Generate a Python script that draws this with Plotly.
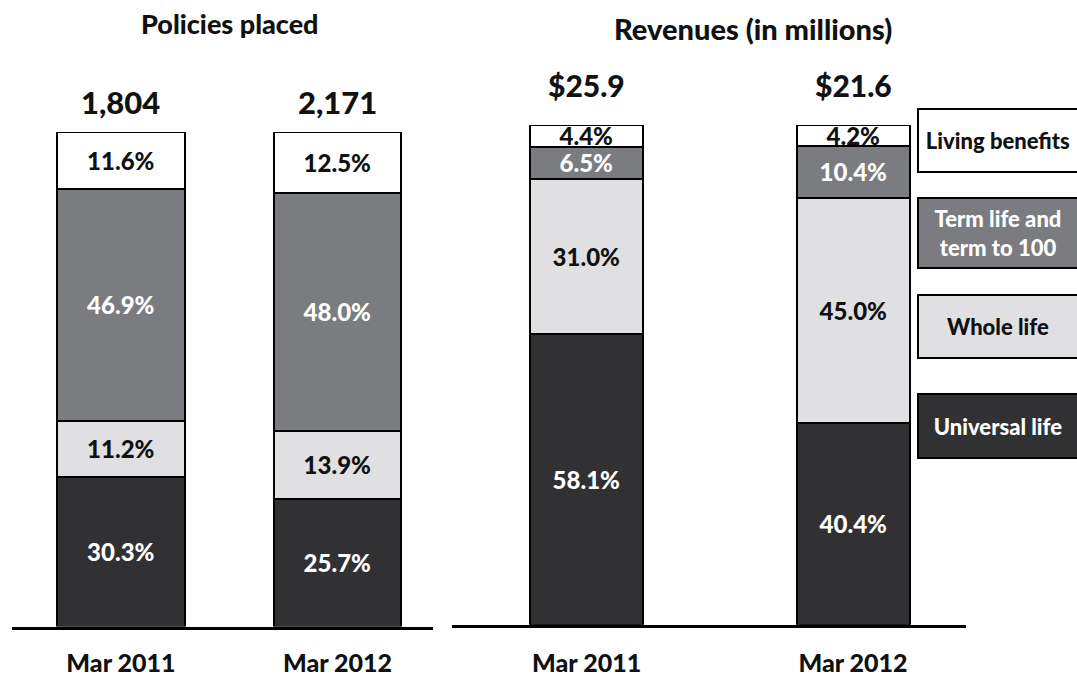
import plotly.graph_objects as go

# Categories and stacked shares (%)
periods = ["Mar 2011", "Mar 2012"]
segments = ["Universal life", "Whole life", "Term life and term to 100", "Living benefits"]
legend_labels = ["Universal life", "Whole life", "Term life and<br>term to 100", "Living benefits"]

policies_universal = [30.3, 25.7]
policies_whole = [11.2, 13.9]
policies_term = [46.9, 48.0]
policies_living = [11.6, 12.5]

revenue_universal = [58.1, 40.4]
revenue_whole = [31.0, 45.0]
revenue_term = [6.5, 10.4]
revenue_living = [4.4, 4.2]

# Totals shown above each bar
policies_total = [1804, 2171]
revenue_total = [25.9, 21.6]

fills = ["#313133", "#e0e0e2", "#7b7c80", "#ffffff"]
text_colors = ["#ffffff", "#111111", "#ffffff", "#111111"]
FONT = "Lato"
WEIGHT = 900

W, H = 1077, 677


def px_x(v):
    return v / W


def px_y(v):
    return 1 - v / H


fig = go.Figure()

policy_series = [policies_universal, policies_whole, policies_term, policies_living]
revenue_series = [revenue_universal, revenue_whole, revenue_term, revenue_living]

for i, name in enumerate(segments):
    fig.add_trace(go.Bar(
        x=periods, y=policy_series[i], name=name, xaxis="x", yaxis="y",
        width=0.59,
        marker=dict(color=fills[i], line=dict(color="#000000", width=2.5)),
        text=[f"{v:.1f}%" for v in policy_series[i]],
        textposition="inside", insidetextanchor="middle",
        textfont=dict(family=FONT, size=24, color=text_colors[i], weight=WEIGHT),
        showlegend=False, hoverinfo="skip",
    ))
for i, name in enumerate(segments):
    fig.add_trace(go.Bar(
        x=periods, y=revenue_series[i], name=name, xaxis="x2", yaxis="y2",
        width=0.424,
        marker=dict(color=fills[i], line=dict(color="#000000", width=2.5)),
        text=[f"{v:.1f}%" for v in revenue_series[i]],
        textposition="inside", insidetextanchor="middle",
        textfont=dict(family=FONT, size=24, color=text_colors[i], weight=WEIGHT),
        showlegend=False, hoverinfo="skip",
    ))

annotations = []
# Panel titles
annotations.append(dict(x=px_x(230), y=px_y(24), xref="paper", yref="paper",
                        xanchor="center", yanchor="middle",
                        text="Policies placed", showarrow=False,
                        font=dict(family=FONT, size=27, color="#111111", weight=WEIGHT)))
annotations.append(dict(x=px_x(753), y=px_y(29), xref="paper", yref="paper",
                        xanchor="center", yanchor="middle",
                        text="Revenues (in millions)", showarrow=False,
                        font=dict(family=FONT, size=29, color="#111111", weight=WEIGHT)))

# Totals above bars (anchored at the stack top, capped at the axis ceiling)
for p, t, s in zip(periods, policies_total, [sum(v) for v in zip(*policy_series)]):
    annotations.append(dict(x=p, y=min(s, 100), xref="x", yref="y", text=f"{t:,}",
                            showarrow=False, xanchor="center", yanchor="bottom", yshift=9,
                            font=dict(family=FONT, size=31, color="#111111", weight=WEIGHT)))
for p, t, s in zip(periods, revenue_total, [sum(v) for v in zip(*revenue_series)]):
    annotations.append(dict(x=p, y=min(s, 100), xref="x2", yref="y2", text=f"${t:.1f}",
                            showarrow=False, xanchor="center", yanchor="bottom", yshift=20,
                            font=dict(family=FONT, size=30, color="#111111", weight=WEIGHT)))

# Legend boxes, top to bottom
legend_boxes = [(110, 65), (200, 72), (298, 65), (399, 66)]
for idx, (top, hgt) in zip([3, 2, 1, 0], legend_boxes):
    annotations.append(dict(
        x=px_x(917), y=px_y(top), xref="paper", yref="paper",
        xanchor="left", yanchor="top", showarrow=False,
        text=legend_labels[idx], align="center",
        width=158, height=hgt - 4, borderpad=0,
        bgcolor=fills[idx], bordercolor="#000000", borderwidth=2,
        font=dict(family=FONT, size=22, color=text_colors[idx], weight=WEIGHT),
    ))

axis_common = dict(showgrid=False, zeroline=False, fixedrange=True)
tick_font = dict(family=FONT, size=25, color="#111111", weight=WEIGHT)
fig.update_layout(
    width=W, height=H,
    margin=dict(l=0, r=0, t=0, b=0),
    paper_bgcolor="#ffffff", plot_bgcolor="rgba(0,0,0,0)",
    barmode="stack", bargap=0,
    annotations=annotations,
    xaxis=dict(domain=[px_x(12), px_x(433)], range=[-0.503, 1.441],
               showline=True, linecolor="#000000", linewidth=3,
               ticks="", ticklabelstandoff=12, tickfont=tick_font,
               anchor="y", **axis_common),
    yaxis=dict(domain=[1 - 636 / H, 1 - 134 / H], range=[0, 100],
               visible=False, anchor="x", **axis_common),
    xaxis2=dict(domain=[px_x(452), px_x(966)], range=[-0.505, 1.424],
                showline=True, linecolor="#000000", linewidth=3,
                ticks="", ticklabelstandoff=14, tickfont=tick_font,
                anchor="y2", **axis_common),
    yaxis2=dict(domain=[1 - 634 / H, 1 - 127 / H], range=[0, 100],
                visible=False, anchor="x2", **axis_common),
    uniformtext=dict(minsize=24, mode="show"),
)

fig.write_html("out.html")
